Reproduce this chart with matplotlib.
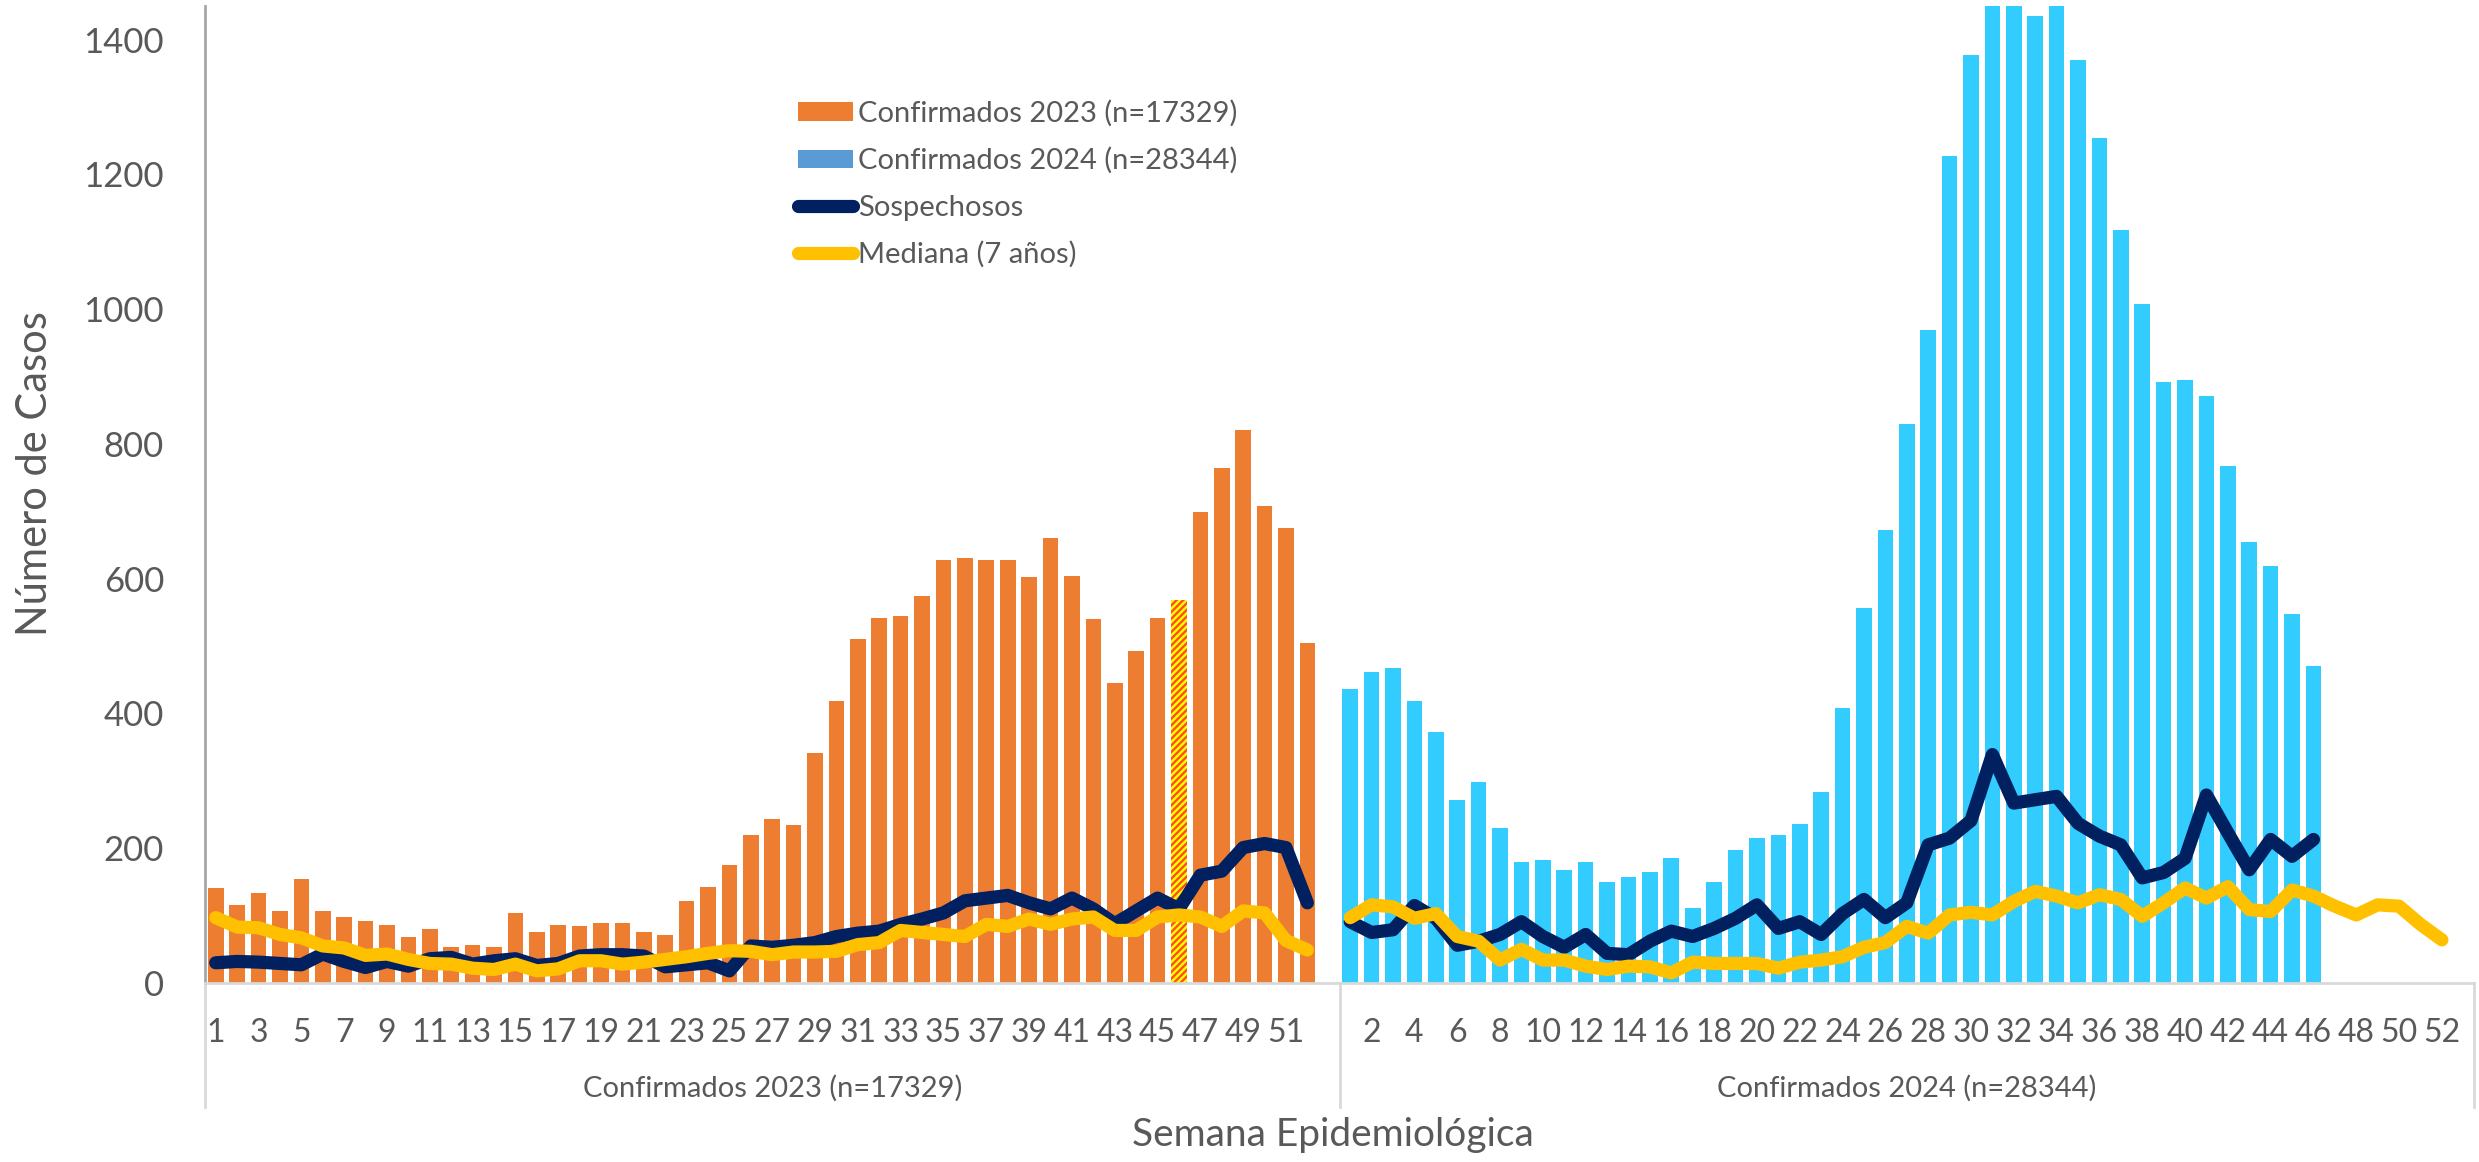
import matplotlib
matplotlib.use("Agg")
import matplotlib.pyplot as plt
from matplotlib.patches import Patch
from matplotlib.lines import Line2D
import numpy as np

# ---------------- data ----------------
weeks = list(range(1, 53))
conf_2023 = [141, 116, 134, 107, 155, 107, 98, 92, 86, 68,
             80, 54, 56, 54, 104, 75, 86, 84, 89, 89,
             75, 71, 122, 143, 175, 220, 243, 234, 341, 418,
             510, 542, 545, 575, 628, 631, 628, 628, 602, 661,
             604, 540, 445, 492, 542, 569, 699, 764, 820, 708,
             675, 504]
conf_2024 = [436, 461, 467, 419, 372, 272, 298, 230, 179, 183,
             167, 179, 150, 158, 165, 185, 111, 150, 197, 215,
             220, 236, 283, 408, 556, 672, 829, 969, 1227, 1378,
             1540, 1590, 1435, 1542, 1370, 1254, 1117, 1008, 892, 895,
             871, 767, 654, 619, 548, 470]
sosp_2023 = [30, 32, 31, 29, 27, 43, 32, 23, 32, 25,
             36, 38, 28, 33, 36, 26, 29, 40, 42, 42,
             40, 24, 27, 30, 18, 55, 53, 56, 60, 69,
             74, 77, 87, 95, 104, 122, 126, 130, 119, 110,
             126, 110, 88, 107, 126, 110, 160, 166, 201, 207,
             201, 119]
sosp_2024 = [91, 75, 79, 115, 96, 56, 62, 72, 91, 69,
             53, 72, 44, 42, 62, 77, 69, 81, 96, 116,
             81, 91, 72, 103, 124, 97, 119, 205, 215, 241,
             339, 267, 272, 277, 237, 218, 205, 156, 164, 185,
             279, 223, 168, 213, 188, 213]
med_2023 = [97, 83, 82, 72, 67, 55, 52, 41, 43, 35,
            29, 28, 22, 20, 28, 18, 21, 33, 33, 28,
            31, 35, 39, 44, 48, 47, 42, 46, 46, 47,
            57, 60, 78, 75, 72, 69, 87, 84, 95, 87,
            95, 98, 78, 78, 98, 101, 98, 84, 107, 104,
            63, 49]
med_2024 = [97, 116, 113, 96, 103, 69, 62, 34, 50, 34,
            34, 25, 20, 25, 24, 15, 31, 29, 29, 29,
            22, 31, 34, 39, 53, 60, 84, 74, 101, 105,
            101, 121, 136, 129, 119, 131, 124, 99, 119, 141,
            126, 143, 109, 106, 138, 129, 114, 101, 116, 114,
            87, 64]
hatched_week_2023 = 46
group_labels = ["Confirmados 2023 (n=17329)", "Confirmados 2024 (n=28344)"]
legend_labels = ["Confirmados 2023 (n=17329)", "Confirmados 2024 (n=28344)",
                 "Sospechosos", "Mediana (7 años)"]
y_ticks = [0, 200, 400, 600, 800, 1000, 1200, 1400]

# ---------------- style ----------------
C_ORANGE = "#ED7D31"
C_BLUE = "#33CCFF"
C_LEG_BLUE = "#5B9BD5"
C_NAVY = "#002060"
C_YELLOW = "#FFC000"
C_TEXT = "#595959"
TXT_FONT = ["Lato", "DejaVu Sans"]
NARROW_FONT = ["Liberation Sans Narrow", "Lato", "DejaVu Sans"]

W, H = 2479, 1162
fig = plt.figure(figsize=(W / 100, H / 100), dpi=100)
ax_left, ax_right = 205 / W, 2474 / W
ax_top, ax_bot = 1 - 6 / H, 1 - 983 / H
ax = fig.add_axes([ax_left, ax_bot, ax_right - ax_left, ax_top - ax_bot])

SLOTS = 53  # each year occupies 53 category slots (week 53 blank)
x23 = np.arange(len(conf_2023))
x24b = SLOTS + np.arange(len(conf_2024))
bw = 0.73

plt.rcParams["hatch.linewidth"] = 1.7
bars23 = ax.bar(x23, conf_2023, width=bw, color=C_ORANGE, linewidth=0, zorder=2)
hi = hatched_week_2023 - 1
bars23[hi].set_facecolor("#FF4F1A")
bars23[hi].set_edgecolor("#FFFF00")
bars23[hi].set_hatch("/////")
bars23[hi].set_linewidth(0)
ax.bar(x24b, conf_2024, width=bw, color=C_BLUE, linewidth=0, zorder=2)

lw = 9.5
kw = dict(lw=lw, solid_capstyle="round", solid_joinstyle="round")
ax.plot(x23, sosp_2023, color=C_NAVY, zorder=3, **kw)
ax.plot(SLOTS + np.arange(len(sosp_2024)), sosp_2024, color=C_NAVY, zorder=3, **kw)
ax.plot(x23, med_2023, color=C_YELLOW, zorder=4, **kw)
ax.plot(SLOTS + np.arange(len(med_2024)), med_2024, color=C_YELLOW, zorder=4, **kw)

ax.set_xlim(-0.5, 2 * SLOTS - 0.5)
ax.set_ylim(0, 1450)

# y axis
ax.set_yticks(y_ticks)
ax.set_yticklabels([str(v) for v in y_ticks], fontsize=25, color=C_TEXT,
                   family=TXT_FONT)
ax.tick_params(axis="y", length=0, pad=29.5)

# x axis: label every other slot
tick_pos, tick_lab = [], []
for i in range(0, 2 * SLOTS - 1, 2):
    tick_pos.append(i)
    wk = i + 1 if i < SLOTS else i - SLOTS + 1
    tick_lab.append("" if wk > 52 else str(wk))
ax.set_xticks(tick_pos)
ax.set_xticklabels(tick_lab, fontsize=23, color=C_TEXT, family=NARROW_FONT)
ax.tick_params(axis="x", length=0, pad=25)

for s in ["top", "right"]:
    ax.spines[s].set_visible(False)
ax.spines["left"].set_color("#A6A6A6")
ax.spines["left"].set_linewidth(2)
ax.spines["bottom"].set_color("#D9D9D9")
ax.spines["bottom"].set_linewidth(2)

# category group separators
ax_h_px = 983 - 6
ybot = -(1107 - 983) / ax_h_px
trans = ax.get_xaxis_transform()
for xv in [-0.5, SLOTS - 0.5, 2 * SLOTS - 0.5]:
    ax.add_line(Line2D([xv, xv], [0, ybot], transform=trans, color="#D9D9D9",
                       lw=2, clip_on=False))

ygrp = -(1088 - 983) / ax_h_px
for k, lab in enumerate(group_labels):
    ax.text(k * SLOTS + (SLOTS - 1) / 2, ygrp, lab, transform=trans,
            ha="center", va="center", fontsize=21, color=C_TEXT, family=TXT_FONT)

fig.text(1333 / W, 1 - 1135 / H, "Semana Epidemiológica", ha="center",
         va="center", fontsize=28, color=C_TEXT, family=TXT_FONT)
fig.text(35 / W, 1 - 474 / H, "Número de Casos", ha="center", va="center",
         rotation=90, fontsize=30, color=C_TEXT, family=TXT_FONT)

# legend
handles = [Patch(facecolor=C_ORANGE, edgecolor="none"),
           Patch(facecolor=C_LEG_BLUE, edgecolor="none"),
           Line2D([], [], color=C_NAVY, lw=lw, solid_capstyle="round"),
           Line2D([], [], color=C_YELLOW, lw=lw, solid_capstyle="round")]
leg = fig.legend(handles, legend_labels, loc="upper left",
                 bbox_to_anchor=(798 / W, 1 - 100 / H), frameon=False,
                 prop={"family": TXT_FONT, "size": 21},
                 handlelength=1.9, handleheight=0.6, handletextpad=0.15,
                 labelspacing=0.7, borderaxespad=0, borderpad=0)
for t in leg.get_texts():
    t.set_color(C_TEXT)

fig.savefig("out.png", dpi=100)
